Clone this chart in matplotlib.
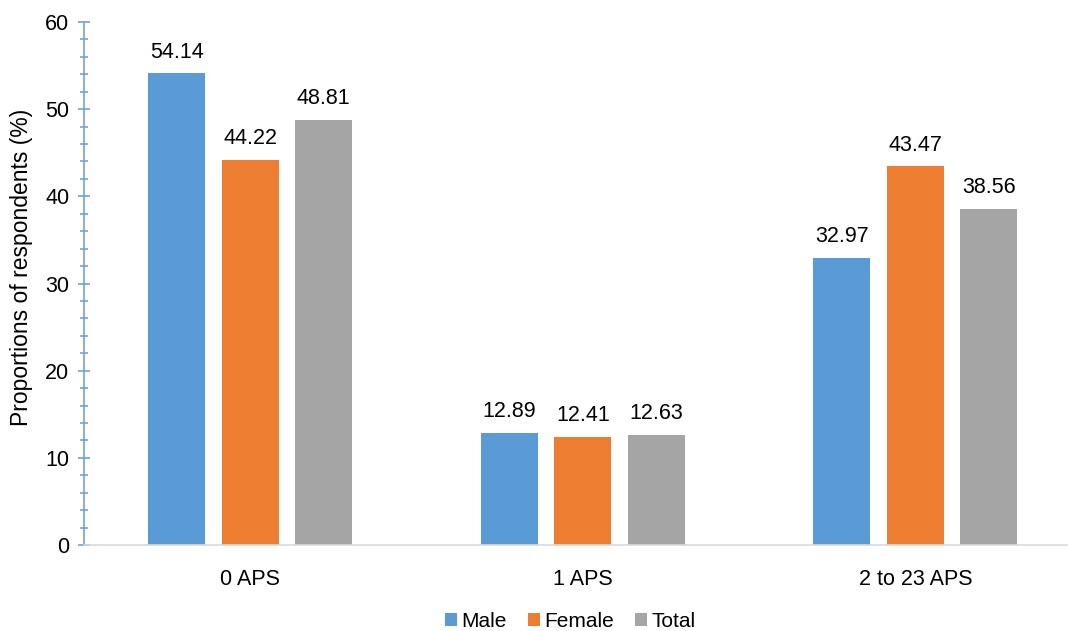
import matplotlib.pyplot as plt
import numpy as np

plt.rcParams['font.family'] = ['Liberation Sans', 'DejaVu Sans']

categories = ['0 APS', '1 APS', '2 to 23 APS']
male = [54.14, 12.89, 32.97]
female = [44.22, 12.41, 43.47]
total = [48.81, 12.63, 38.56]
series_names = ['Male', 'Female', 'Total']
colors = ['#5B9BD5', '#ED7D31', '#A5A5A5']

fig = plt.figure(figsize=(10.68, 6.31), dpi=100)
ax = fig.add_axes([0.0787, 0.1363, 0.9213, 0.8288])

x = np.arange(len(categories))
w = 0.171
step = 0.221
for i, (vals, name, c) in enumerate(zip([male, female, total], series_names, colors)):
    bars = ax.bar(x + (i - 1) * step, vals, width=w, color=c, label=name)
    for b, v in zip(bars, vals):
        ax.annotate(f'{v:.2f}', (b.get_x() + b.get_width() / 2, v),
                    xytext=(0, 7.5), textcoords='offset points',
                    ha='center', va='bottom', fontsize=15.5)

ax.set_xlim(-0.5, 2.459)
ax.set_ylim(0, 60)
ax.set_xticks(x)
ax.set_xticklabels(categories)
ax.set_yticks(range(0, 61, 10))
ax.set_yticks(range(0, 61, 2), minor=True)

ax.spines['top'].set_visible(False)
ax.spines['right'].set_visible(False)
ax.spines['left'].set_color('#6FA3D6')
ax.spines['left'].set_linewidth(1.2)
ax.spines['bottom'].set_color('#D9D9D9')
ax.spines['bottom'].set_linewidth(1.2)

ax.tick_params(axis='y', which='major', direction='inout', length=9, width=1.2,
               color='#6FA3D6', labelsize=15.5, pad=6)
ax.tick_params(axis='y', which='minor', direction='inout', length=6, width=1.2,
               color='#6FA3D6')
ax.tick_params(axis='x', length=0, labelsize=15.5, pad=17)

ax.set_ylabel('Proportions of respondents (%)', fontsize=16.5)
ax.yaxis.set_label_coords(-0.052, 0.53)

fig.legend(loc='lower center', bbox_to_anchor=(0.534, -0.03), ncol=3, frameon=False,
           fontsize=15, handlelength=0.6, handleheight=0.6, handletextpad=0.2,
           columnspacing=1.0)

fig.savefig('out.png', dpi=100)
